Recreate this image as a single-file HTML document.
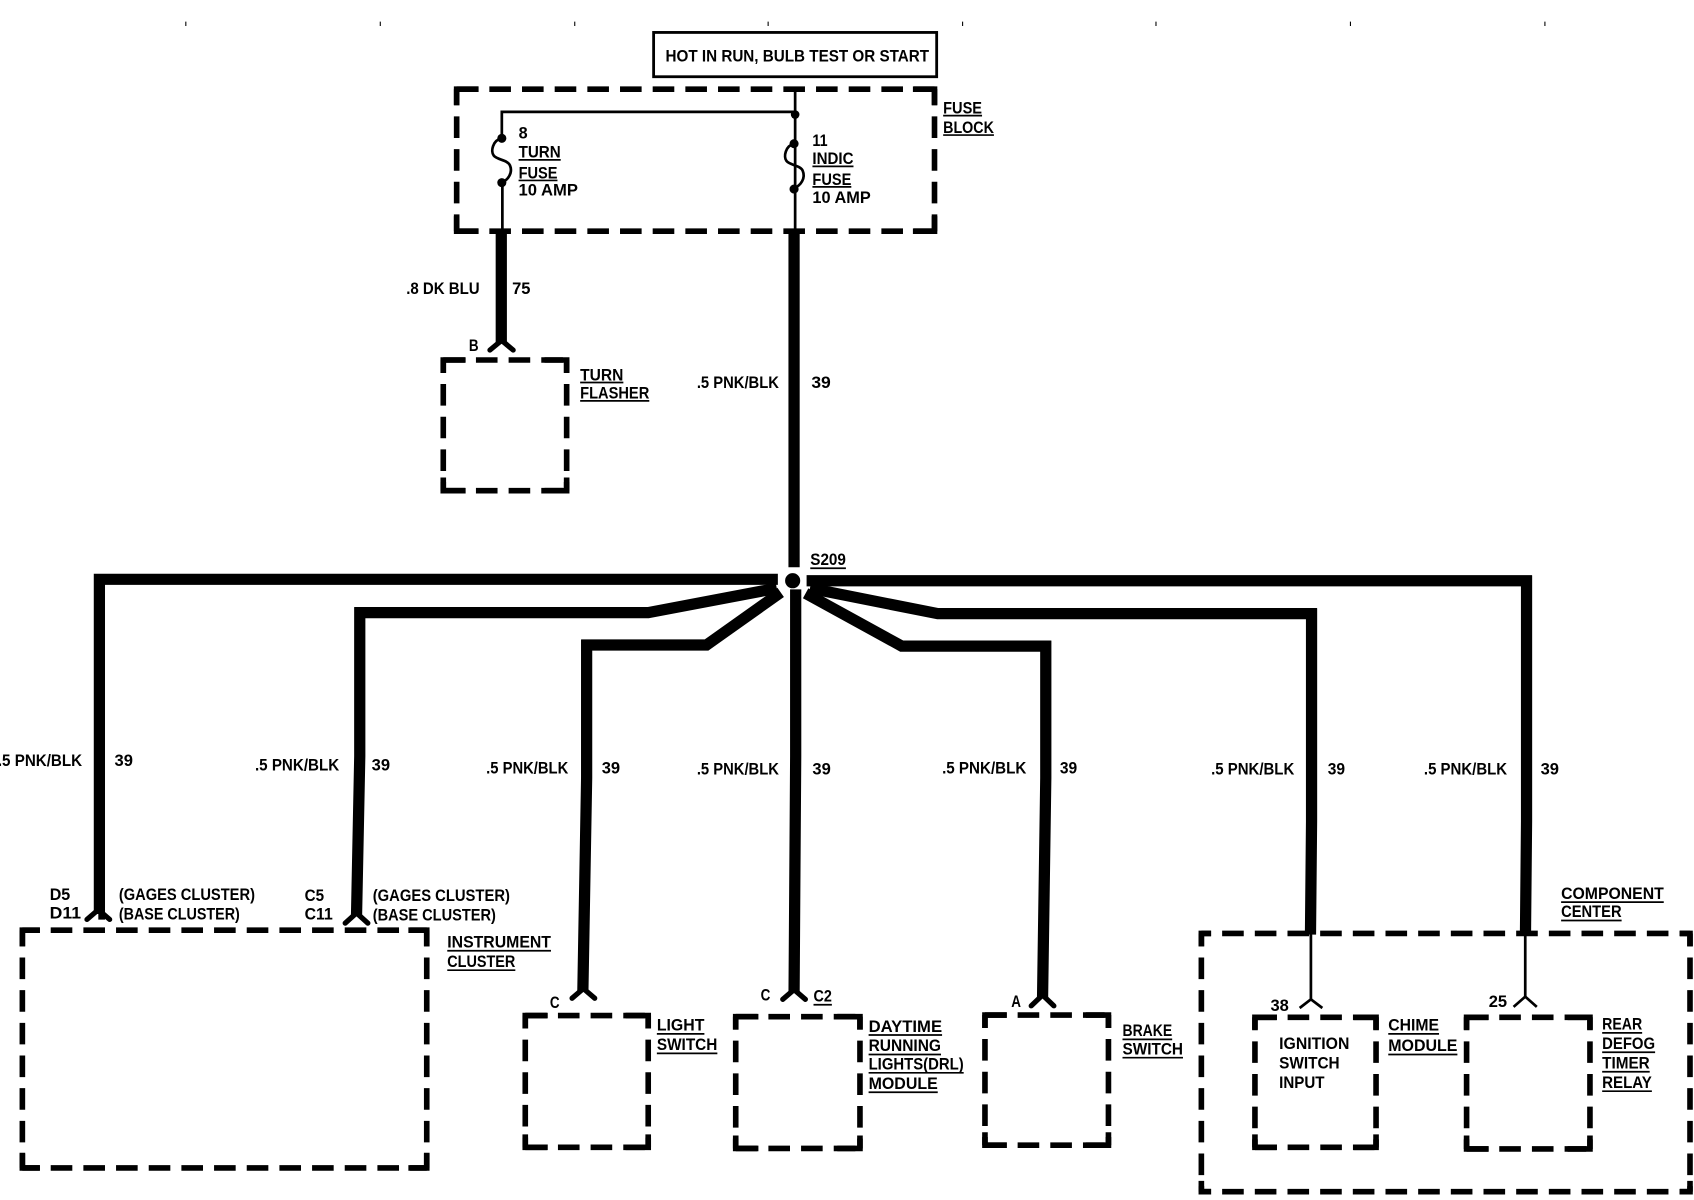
<!DOCTYPE html>
<html><head><meta charset="utf-8"><style>
html,body{margin:0;padding:0;background:#fff}
svg{display:block}
text{font-family:"Liberation Sans",sans-serif;font-weight:bold;font-size:15px;fill:#000}
.d{fill:none;stroke:#000;stroke-width:5.2;stroke-dasharray:20 10.24}
.k{fill:none;stroke:#000;stroke-width:5.2;stroke-linejoin:miter}
.w{fill:none;stroke:#000;stroke-width:10.4;stroke-linejoin:miter}
.t{fill:none;stroke:#000;stroke-width:2.5}
.c{fill:none;stroke:#000;stroke-width:4.8;stroke-linecap:round;stroke-linejoin:round}
.u{stroke:#000;stroke-width:1.6}
</style></head><body>
<svg xmlns="http://www.w3.org/2000/svg" width="1694" height="1200" viewBox="0 0 1568 1110.7">
<rect width="1568" height="1111" fill="#fff"/>
<path stroke="#000" stroke-width="1" d="M172,20v4M352,20v4M532,20v4M711,20v4M891,20v4M1070,20v4M1250,20v4M1430,20v4"/>
<rect x="605" y="30" width="262" height="41" fill="none" stroke="#000" stroke-width="2.6"/>
<text x="616" y="57" textLength="244" lengthAdjust="spacingAndGlyphs">HOT IN RUN, BULB TEST OR START</text>

<!-- fuse block -->
<path class="d" d="M422.7,82.5H865M422.7,214H865"/>
<path class="d" style="stroke-dashoffset:5" d="M422.7,82.5V214M865,82.5V214"/>
<path class="k" d="M422.7,97V82.5H443M845,82.5H865V97M422.7,200V214H443M845,214H865V200"/>
<!-- turn flasher -->
<path class="d" d="M410.3,333.2H524.5M410.3,454.2H524.5"/>
<path class="d" style="stroke-dashoffset:8" d="M410.3,333.2V454.2M524.5,333.2V454.2"/>
<path class="k" d="M410.3,345V333.2H431M504,333.2H524.5V345M410.3,442V454.2H431M504,454.2H524.5V442"/>
<!-- instrument cluster -->
<path class="d" style="stroke-dashoffset:4" d="M20.7,861H395M20.7,1081H395"/>
<path class="d" style="stroke-dashoffset:5" d="M20.7,861V1081M395,861V1081"/>
<path class="k" d="M20.7,876V861H37M378,861H395V876M20.7,1067V1081H37M378,1081H395V1067"/>
<!-- light switch -->
<path class="d" d="M486.2,940H600M486.2,1062H600"/>
<path class="d" style="stroke-dashoffset:8" d="M486.2,940V1062M600,940V1062"/>
<path class="k" d="M486.2,952V940H507M579,940H600V952M486.2,1050V1062H507M579,1062H600V1050"/>
<!-- DRL -->
<path class="d" d="M681,941H796M681,1063H796"/>
<path class="d" style="stroke-dashoffset:8" d="M681,941V1063M796,941V1063"/>
<path class="k" d="M681,953V941H702M775,941H796V953M681,1051V1063H702M775,1063H796V1051"/>
<!-- brake -->
<path class="d" d="M911.7,939.5H1026M911.7,1060H1026"/>
<path class="d" style="stroke-dashoffset:8" d="M911.7,939.5V1060M1026,939.5V1060"/>
<path class="k" d="M911.7,951.5V939.5H932M1005,939.5H1026V951.5M911.7,1048V1060H932M1005,1060H1026V1048"/>
<!-- component center -->
<path class="d" style="stroke-dashoffset:11" d="M1112,864H1564.3M1112,1103H1564.3"/>
<path class="d" style="stroke-dashoffset:8" d="M1112,864V1103M1564.3,864V1103"/>
<path class="k" d="M1112,876V864H1121M1555,864H1564.3V876M1112,1093V1103H1121M1555,1103H1564.3V1093"/>
<!-- chime -->
<path class="d" d="M1161.6,941.6H1273.7M1161.6,1062H1273.7"/>
<path class="d" style="stroke-dashoffset:8" d="M1161.6,941.6V1062M1273.7,941.6V1062"/>
<path class="k" d="M1161.6,953V941.6H1182M1253,941.6H1273.7V953M1161.6,1050V1062H1182M1253,1062H1273.7V1050"/>
<!-- rear defog -->
<path class="d" d="M1357.5,941.6H1471.7M1357.5,1063.5H1471.7"/>
<path class="d" style="stroke-dashoffset:8" d="M1357.5,941.6V1063.5M1471.7,941.6V1063.5"/>
<path class="k" d="M1357.5,953V941.6H1378M1451,941.6H1471.7V953M1357.5,1051V1063.5H1378M1451,1063.5H1471.7V1051"/>

<path class="t" d="M736,83V215M465,215V169M464.5,128V103.5H736"/>
<path class="t" d="M464,128C456,130 454,140 457,144C460,148 470,148 472,153C475,160 470,167 464,169"/>
<path class="t" d="M735,133C727,135 725,145 728,149C731,153 741,153 743,158C746,165 741,172 735,174"/>
<circle cx="736" cy="106" r="4"/><circle cx="464.5" cy="128" r="4.2"/><circle cx="464.5" cy="169" r="4.2"/>
<circle cx="735" cy="133" r="4.2"/><circle cx="735" cy="175" r="4.2"/>

<path class="w" d="M464,212V318"/>
<path class="w" d="M735,212V525"/>
<path class="w" d="M92.5,536.2H720M92,531V846L91,846"/>
<path class="w" d="M333,562V700L330,848M328,567H600L719,544.5"/>
<path class="w" d="M543,592V720L539.5,918M538,597H654L722.6,548.3"/>
<path class="w" d="M736.5,545.5V700L735,919"/>
<path class="w" d="M968,593V720L965,924M973,598H834.6L745.7,549.2"/>
<path class="w" d="M1214,563V760L1213,865M1219,568H868L749.7,544.5"/>
<path class="w" d="M1413,532.5V760L1412,865M1418,537.5H746.6"/>
<circle cx="733.7" cy="537.5" r="7"/>
<path class="t" d="M1213.4,864V926M1411.8,864V923"/>

<path class="c" d="M453.5,324L464.3,315L475,324"/>
<path class="c" d="M80.5,851L91,842L101.5,851"/>
<path class="c" d="M319.5,854.5L330,845L340.5,854.5"/>
<path class="c" d="M529.5,924L540,915L550.5,924"/>
<path class="c" d="M724.5,925L735,916L745.5,925"/>
<path class="c" d="M954.5,931L965,921L975.5,931"/>
<path class="t" d="M1203,933L1213.4,925L1224,933M1401,932L1411.8,922.5L1422.5,932"/>

<text x="873" y="105" textLength="36" lengthAdjust="spacingAndGlyphs">FUSE</text><path class="u" d="M873,107H909"/>
<text x="873" y="123" textLength="47" lengthAdjust="spacingAndGlyphs">BLOCK</text><path class="u" d="M873,125H920"/>
<text x="480" y="128">8</text>
<text x="480" y="146" textLength="39" lengthAdjust="spacingAndGlyphs">TURN</text><path class="u" d="M480,148H519"/>
<text x="480" y="165" textLength="36" lengthAdjust="spacingAndGlyphs">FUSE</text><path class="u" d="M480,167H516"/>
<text x="480" y="181" textLength="55" lengthAdjust="spacingAndGlyphs">10 AMP</text>
<text x="752" y="135" textLength="14" lengthAdjust="spacingAndGlyphs">11</text>
<text x="752" y="152" textLength="38" lengthAdjust="spacingAndGlyphs">INDIC</text><path class="u" d="M752,154H790"/>
<text x="752" y="171" textLength="36" lengthAdjust="spacingAndGlyphs">FUSE</text><path class="u" d="M752,173H788"/>
<text x="752" y="188" textLength="54" lengthAdjust="spacingAndGlyphs">10 AMP</text>
<text x="376" y="272" textLength="68" lengthAdjust="spacingAndGlyphs">.8 DK BLU</text>
<text x="474" y="272" textLength="17" lengthAdjust="spacingAndGlyphs">75</text>
<text x="434" y="325" textLength="9" lengthAdjust="spacingAndGlyphs">B</text>
<text x="537" y="352" textLength="40" lengthAdjust="spacingAndGlyphs">TURN</text><path class="u" d="M537,354H577"/>
<text x="537" y="369" textLength="64" lengthAdjust="spacingAndGlyphs">FLASHER</text><path class="u" d="M537,371H601"/>
<text x="645" y="359" textLength="76" lengthAdjust="spacingAndGlyphs">.5 PNK/BLK</text>
<text x="751" y="359" textLength="18" lengthAdjust="spacingAndGlyphs">39</text>
<text x="750" y="523" textLength="33" lengthAdjust="spacingAndGlyphs">S209</text><path class="u" d="M750,526H783"/>

<text x="-2" y="709" textLength="78" lengthAdjust="spacingAndGlyphs">.5 PNK/BLK</text><text x="106" y="709" textLength="17" lengthAdjust="spacingAndGlyphs">39</text>
<text x="236" y="713" textLength="78" lengthAdjust="spacingAndGlyphs">.5 PNK/BLK</text><text x="344" y="713" textLength="17" lengthAdjust="spacingAndGlyphs">39</text>
<text x="450" y="716" textLength="76" lengthAdjust="spacingAndGlyphs">.5 PNK/BLK</text><text x="557" y="716" textLength="17" lengthAdjust="spacingAndGlyphs">39</text>
<text x="645" y="717" textLength="76" lengthAdjust="spacingAndGlyphs">.5 PNK/BLK</text><text x="752" y="717" textLength="17" lengthAdjust="spacingAndGlyphs">39</text>
<text x="872" y="716" textLength="78" lengthAdjust="spacingAndGlyphs">.5 PNK/BLK</text><text x="981" y="716" textLength="16" lengthAdjust="spacingAndGlyphs">39</text>
<text x="1121" y="717" textLength="77" lengthAdjust="spacingAndGlyphs">.5 PNK/BLK</text><text x="1229" y="717" textLength="16" lengthAdjust="spacingAndGlyphs">39</text>
<text x="1318" y="717" textLength="77" lengthAdjust="spacingAndGlyphs">.5 PNK/BLK</text><text x="1426" y="717" textLength="17" lengthAdjust="spacingAndGlyphs">39</text>

<text x="46" y="833" textLength="19" lengthAdjust="spacingAndGlyphs">D5</text>
<text x="46" y="850" textLength="29" lengthAdjust="spacingAndGlyphs">D11</text>
<text x="110" y="833" textLength="126" lengthAdjust="spacingAndGlyphs">(GAGES CLUSTER)</text>
<text x="110" y="851" textLength="112" lengthAdjust="spacingAndGlyphs">(BASE CLUSTER)</text>
<text x="282" y="834" textLength="18" lengthAdjust="spacingAndGlyphs">C5</text>
<text x="282" y="851" textLength="26" lengthAdjust="spacingAndGlyphs">C11</text>
<text x="345" y="834" textLength="127" lengthAdjust="spacingAndGlyphs">(GAGES CLUSTER)</text>
<text x="345" y="852" textLength="114" lengthAdjust="spacingAndGlyphs">(BASE CLUSTER)</text>
<text x="414" y="877" textLength="96" lengthAdjust="spacingAndGlyphs">INSTRUMENT</text><path class="u" d="M414,880H510"/>
<text x="414" y="895" textLength="63" lengthAdjust="spacingAndGlyphs">CLUSTER</text><path class="u" d="M414,898H477"/>
<text x="509" y="933" textLength="9" lengthAdjust="spacingAndGlyphs">C</text>
<text x="608" y="954" textLength="44" lengthAdjust="spacingAndGlyphs">LIGHT</text><path class="u" d="M608,957H652"/>
<text x="608" y="972" textLength="56" lengthAdjust="spacingAndGlyphs">SWITCH</text><path class="u" d="M608,975H664"/>
<text x="704" y="926" textLength="9" lengthAdjust="spacingAndGlyphs">C</text>
<text x="753" y="927" textLength="17" lengthAdjust="spacingAndGlyphs">C2</text><path class="u" d="M753,930H770"/>
<text x="804" y="955" textLength="68" lengthAdjust="spacingAndGlyphs">DAYTIME</text><path class="u" d="M804,958H872"/>
<text x="804" y="973" textLength="67" lengthAdjust="spacingAndGlyphs">RUNNING</text><path class="u" d="M804,976H871"/>
<text x="804" y="990" textLength="88" lengthAdjust="spacingAndGlyphs">LIGHTS(DRL)</text><path class="u" d="M804,993H892"/>
<text x="804" y="1008" textLength="64" lengthAdjust="spacingAndGlyphs">MODULE</text><path class="u" d="M804,1011H868"/>
<text x="936" y="932" textLength="9" lengthAdjust="spacingAndGlyphs">A</text>
<text x="1039" y="959" textLength="46" lengthAdjust="spacingAndGlyphs">BRAKE</text><path class="u" d="M1039,962H1085"/>
<text x="1039" y="976" textLength="56" lengthAdjust="spacingAndGlyphs">SWITCH</text><path class="u" d="M1039,979H1095"/>
<text x="1176" y="936" textLength="17" lengthAdjust="spacingAndGlyphs">38</text>
<text x="1378" y="932" textLength="17" lengthAdjust="spacingAndGlyphs">25</text>
<text x="1285" y="954" textLength="47" lengthAdjust="spacingAndGlyphs">CHIME</text><path class="u" d="M1285,957H1332"/>
<text x="1285" y="973" textLength="64" lengthAdjust="spacingAndGlyphs">MODULE</text><path class="u" d="M1285,976H1349"/>
<text x="1184" y="971" textLength="65" lengthAdjust="spacingAndGlyphs">IGNITION</text>
<text x="1184" y="989" textLength="56" lengthAdjust="spacingAndGlyphs">SWITCH</text>
<text x="1184" y="1007" textLength="42" lengthAdjust="spacingAndGlyphs">INPUT</text>
<text x="1483" y="953" textLength="37" lengthAdjust="spacingAndGlyphs">REAR</text><path class="u" d="M1483,956H1520"/>
<text x="1483" y="971" textLength="49" lengthAdjust="spacingAndGlyphs">DEFOG</text><path class="u" d="M1483,974H1532"/>
<text x="1483" y="989" textLength="44" lengthAdjust="spacingAndGlyphs">TIMER</text><path class="u" d="M1483,992H1527"/>
<text x="1483" y="1007" textLength="46" lengthAdjust="spacingAndGlyphs">RELAY</text><path class="u" d="M1483,1010H1529"/>
<text x="1445" y="832" textLength="95" lengthAdjust="spacingAndGlyphs">COMPONENT</text><path class="u" d="M1445,835H1540"/>
<text x="1445" y="849" textLength="56" lengthAdjust="spacingAndGlyphs">CENTER</text><path class="u" d="M1445,852H1501"/>
</svg>
</body></html>
